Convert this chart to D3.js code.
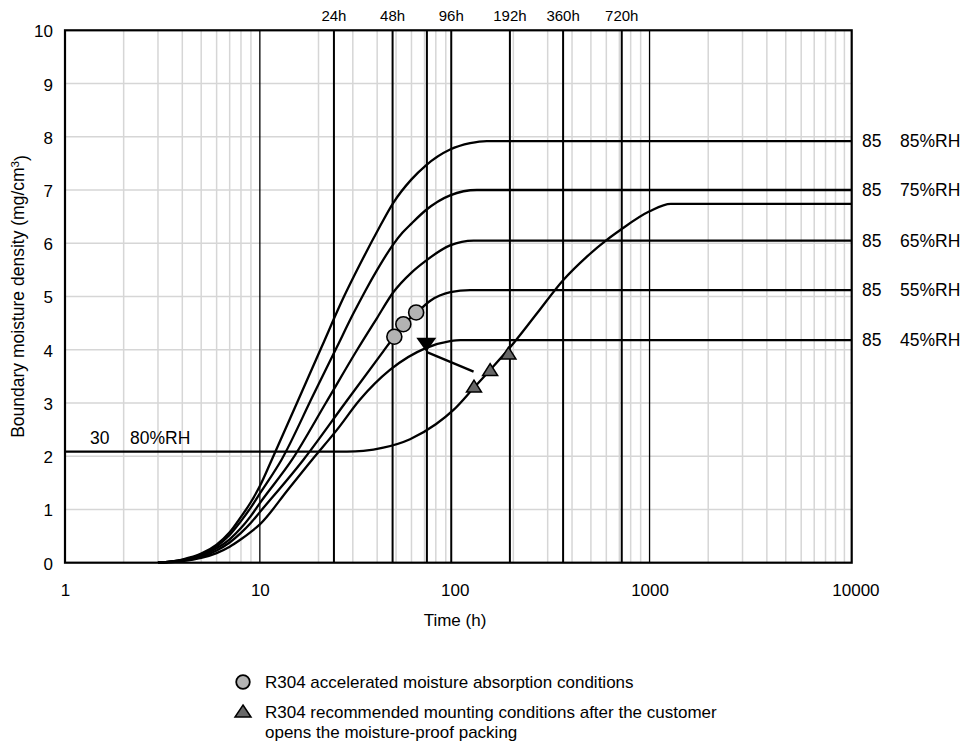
<!DOCTYPE html>
<html>
<head>
<meta charset="utf-8">
<script src="https://cdn.jsdelivr.net/npm/d3@7"></script>
<style>
  body { margin: 0; background: #fff; }
  svg text { font-family: "Liberation Sans", Arial, sans-serif; fill: #000; }
</style>
</head>
<body>
<svg id="chart" width="973" height="748"></svg>
<script>
  /*
   * Data
   */

  // Axis ticks
  var X_TICKS = [1, 10, 100, 1000, 10000];
  var Y_TICKS = [0, 1, 2, 3, 4, 5, 6, 7, 8, 9, 10];

  // Hour marker lines along the top
  var HOURS = [24, 48, 72, 96, 192, 360, 720];
  var HOUR_LABELS = ["24h", "48h", "", "96h", "192h", "360h", "720h"];

  // 85 C curves: [time (h), moisture density (mg/cm3)]
  var C85_RH85 = [[3, 0], [4, 0.06], [5, 0.17], [6, 0.34], [7, 0.57], [8, 0.86], [9, 1.14],
    [10, 1.44], [11.5, 1.93], [15.5, 3.0], [20.8, 4.06], [26.8, 4.97], [32.6, 5.6],
    [40, 6.22], [48.4, 6.76], [60, 7.2], [71, 7.46], [94.7, 7.76], [120, 7.88], [146, 7.92]];
  var C85_RH75 = [[3, 0], [4, 0.055], [5, 0.155], [6, 0.31], [7, 0.52], [8, 0.78], [9, 1.04],
    [10, 1.3], [12.9, 1.93], [18.8, 3.15], [25, 4.07], [30, 4.66], [34.7, 5.1],
    [40, 5.5], [48.4, 5.98], [54, 6.2], [60, 6.37], [71, 6.62], [94.7, 6.9], [130, 7.0]];
  var C85_RH65 = [[3, 0], [4, 0.05], [5, 0.13], [6, 0.27], [7, 0.44], [8, 0.65], [9, 0.88],
    [10, 1.12], [14.6, 1.93], [21.8, 3.0], [31.6, 4.0], [40, 4.6], [48.4, 5.08],
    [60, 5.45], [71, 5.67], [94.7, 5.96], [125, 6.05]];
  var C85_RH55 = [[3, 0], [4, 0.04], [5, 0.11], [6, 0.23], [7, 0.38], [8, 0.56], [9, 0.75],
    [10, 0.95], [16.7, 1.93], [27.4, 3.0], [43, 3.97], [49, 4.25], [55, 4.48], [64, 4.7],
    [75, 4.92], [95, 5.08], [120, 5.12]];
  var C85_RH45 = [[3, 0], [4, 0.03], [5, 0.09], [6, 0.18], [7, 0.3], [8, 0.44], [9, 0.58],
    [10, 0.72], [14, 1.38], [18.5, 1.93], [24.8, 2.49], [32.6, 3.06], [46.5, 3.62],
    [71, 4.03], [94.7, 4.16], [107, 4.18]];

  var CURVES_85C = [C85_RH85, C85_RH75, C85_RH65, C85_RH55, C85_RH45];
  var CURVE_TEMPS = ["85", "85", "85", "85", "85"];
  var CURVE_RH = ["85%RH", "75%RH", "65%RH", "55%RH", "45%RH"];

  // 30 C / 80%RH curve
  var C30_RH80 = [[1, 2.085], [28, 2.085], [34, 2.1], [43, 2.16], [59, 2.32], [80, 2.6],
    [98.6, 2.87], [125, 3.28], [152, 3.62], [193, 4.05], [264, 4.68], [361, 5.31],
    [477, 5.75], [601, 6.06], [708, 6.25], [1000, 6.6], [1286, 6.74]];

  // Markers
  var ACCEL_POINTS = [[49, 4.245], [54.5, 4.48], [63.4, 4.7]];
  var MOUNT_POINTS = [[125.6, 3.28], [152, 3.59], [188.7, 3.9]];
  var ARROW = [[125, 3.59], [71.5, 3.96]];

  var LEGEND_TEXT = [
    "R304 accelerated moisture absorption conditions",
    "R304 recommended mounting conditions after the customer",
    "opens the moisture-proof packing"
  ];

  /*
   * Layout
   */

  var LEFT = 65;
  var RIGHT = 851.7;
  var TOP = 30.3;
  var BOTTOM = 562.7;
  // the frame runs a little past 10000 h
  var X_MAX = 10900;

  var svg = d3.select("#chart");

  var x = d3.scaleLog().domain([1, X_MAX]).range([LEFT, RIGHT]);
  var y = d3.scaleLinear().domain([0, 10]).range([BOTTOM, TOP]);

  // light grid
  var minor = [];
  for (let k = 0; k < 4; ++k) {
    for (let d = 2; d <= 9; ++d) {
      minor.push(d * Math.pow(10, k));
    }
  }
  minor.push(10000);

  var grid = svg.append("g").attr("class", "grid");
  grid.selectAll("line.v")
      .data(minor)
    .enter().append("line")
      .attr("class", "v")
      .attr("x1", d => x(d)).attr("x2", d => x(d))
      .attr("y1", TOP).attr("y2", BOTTOM)
      .attr("stroke", "#d6d6d6")
      .attr("stroke-width", 1.5);
  grid.selectAll("line.h")
      .data(Y_TICKS.slice(1, -1))
    .enter().append("line")
      .attr("class", "h")
      .attr("x1", LEFT).attr("x2", RIGHT)
      .attr("y1", d => y(d)).attr("y2", d => y(d))
      .attr("stroke", "#d6d6d6")
      .attr("stroke-width", 1.5);

  // decade lines (100 sits under the 96h line)
  svg.append("g").selectAll("line")
      .data([10, 1000])
    .enter().append("line")
      .attr("x1", d => x(d)).attr("x2", d => x(d))
      .attr("y1", TOP).attr("y2", BOTTOM)
      .attr("stroke", "#000")
      .attr("stroke-width", 1.3);

  // hour lines and their labels
  var hours = svg.append("g").attr("class", "hours");
  hours.selectAll("line")
      .data(HOURS)
    .enter().append("line")
      .attr("x1", d => x(d)).attr("x2", d => x(d))
      .attr("y1", TOP).attr("y2", BOTTOM)
      .attr("stroke", "#000")
      .attr("stroke-width", 2);
  hours.selectAll("text")
      .data(HOURS)
    .enter().append("text")
      .attr("x", d => x(d))
      .attr("y", 21)
      .attr("text-anchor", "middle")
      .style("font-size", "15px")
      .text((d, i) => HOUR_LABELS[i]);

  // curves
  var line = d3.line()
    .x(d => x(d[0]))
    .y(d => y(d[1]))
    .curve(d3.curveMonotoneX);

  function extend(pts) {
    var last = pts[pts.length - 1];
    return pts.concat([[X_MAX, last[1]]]);
  }

  var curves = CURVES_85C.concat([C30_RH80]);
  svg.append("g").selectAll("path")
      .data(curves)
    .enter().append("path")
      .attr("d", d => line(extend(d)))
      .attr("fill", "none")
      .attr("stroke", "#000")
      .attr("stroke-width", 2.3);

  // right-hand curve labels
  var rl = svg.append("g").style("font-size", "17.5px");
  rl.selectAll("text.temp")
      .data(CURVES_85C)
    .enter().append("text")
      .attr("class", "temp")
      .attr("x", 862)
      .attr("y", d => y(d[d.length - 1][1]))
      .attr("dy", "0.36em")
      .text((d, i) => CURVE_TEMPS[i]);
  rl.selectAll("text.rh")
      .data(CURVES_85C)
    .enter().append("text")
      .attr("class", "rh")
      .attr("x", 900)
      .attr("y", d => y(d[d.length - 1][1]))
      .attr("dy", "0.36em")
      .text((d, i) => CURVE_RH[i]);

  // 30 C label above the flat part
  rl.append("text")
    .attr("x", 90).attr("y", y(C30_RH80[0][1]) - 8)
    .text("30");
  rl.append("text")
    .attr("x", 130).attr("y", y(C30_RH80[0][1]) - 8)
    .text("80%RH");

  // arrow
  svg.append("line")
    .attr("x1", x(ARROW[0][0])).attr("y1", y(ARROW[0][1]))
    .attr("x2", x(ARROW[1][0])).attr("y2", y(ARROW[1][1]))
    .attr("stroke", "#000")
    .attr("stroke-width", 2.3);
  svg.append("path")
    .attr("transform", "translate(" + x(ARROW[1][0]) + "," + y(ARROW[1][1]) + ")")
    .attr("d", "M0,0L-10,-14L10,-14Z")
    .attr("fill", "#000");

  function tri(w, h) {
    return "M0," + (-h * 2 / 3) + "L" + (w / 2) + "," + (h / 3) +
      "L" + (-w / 2) + "," + (h / 3) + "Z";
  }

  // markers
  svg.append("g").selectAll("circle")
      .data(ACCEL_POINTS)
    .enter().append("circle")
      .attr("cx", d => x(d[0]))
      .attr("cy", d => y(d[1]))
      .attr("r", 7.5)
      .attr("fill", "#b3b3b3")
      .attr("stroke", "#000")
      .attr("stroke-width", 1.6);
  svg.append("g").selectAll("path")
      .data(MOUNT_POINTS)
    .enter().append("path")
      .attr("transform", d => "translate(" + x(d[0]) + "," + y(d[1]) + ")")
      .attr("d", tri(15, 12))
      .attr("fill", "#686868")
      .attr("stroke", "#000")
      .attr("stroke-width", 1.5);

  // frame
  svg.append("rect")
    .attr("x", LEFT).attr("y", TOP)
    .attr("width", RIGHT - LEFT).attr("height", BOTTOM - TOP)
    .attr("fill", "none")
    .attr("stroke", "#000")
    .attr("stroke-width", 2.2);

  // axes
  var xAxis = svg.append("g")
    .attr("transform", "translate(0," + BOTTOM + ")")
    .call(d3.axisBottom(x).tickValues(X_TICKS).tickFormat(d3.format("d"))
      .tickSize(0).tickPadding(21));
  xAxis.select(".domain").remove();
  xAxis.selectAll("text")
    .style("font-size", "17px")
    // the 10000 label sits a bit right of its tick in the original
    .attr("dx", d => d === 10000 ? 11 : 0);

  var yAxis = svg.append("g")
    .attr("transform", "translate(" + LEFT + ",0)")
    .call(d3.axisLeft(y).tickValues(Y_TICKS).tickSize(0).tickPadding(12));
  yAxis.select(".domain").remove();
  yAxis.selectAll("text")
    .style("font-size", "17px")
    .attr("dy", "0.38em");
  svg.selectAll(".tick text").attr("fill", "#000");

  // axis titles
  svg.append("text")
    .attr("x", 455)
    .attr("y", 626)
    .attr("text-anchor", "middle")
    .style("font-size", "17px")
    .text("Time (h)");

  var ytitle = svg.append("text")
    .attr("transform", "translate(24," + ((TOP + BOTTOM) / 2) + ") rotate(-90)")
    .attr("text-anchor", "middle")
    .style("font-size", "17.5px");
  ytitle.append("tspan").text("Boundary moisture density (mg/cm");
  ytitle.append("tspan").attr("dy", "-0.45em").style("font-size", "11.5px").text("3");
  ytitle.append("tspan").attr("dy", "0.45em").text(")");

  // legend
  var legend = svg.append("g").style("font-size", "17px");
  legend.append("circle")
    .attr("cx", 243).attr("cy", 682)
    .attr("r", 6.8)
    .attr("fill", "#b3b3b3")
    .attr("stroke", "#000")
    .attr("stroke-width", 1.8);
  legend.append("path")
    .attr("transform", "translate(243,713)")
    .attr("d", tri(16, 12))
    .attr("fill", "#686868")
    .attr("stroke", "#000")
    .attr("stroke-width", 1.5);
  legend.selectAll("text")
      .data(LEGEND_TEXT)
    .enter().append("text")
      .attr("x", 265)
      .attr("y", (d, i) => [688, 718, 738][i])
      .text(d => d);
</script>
</body>
</html>
